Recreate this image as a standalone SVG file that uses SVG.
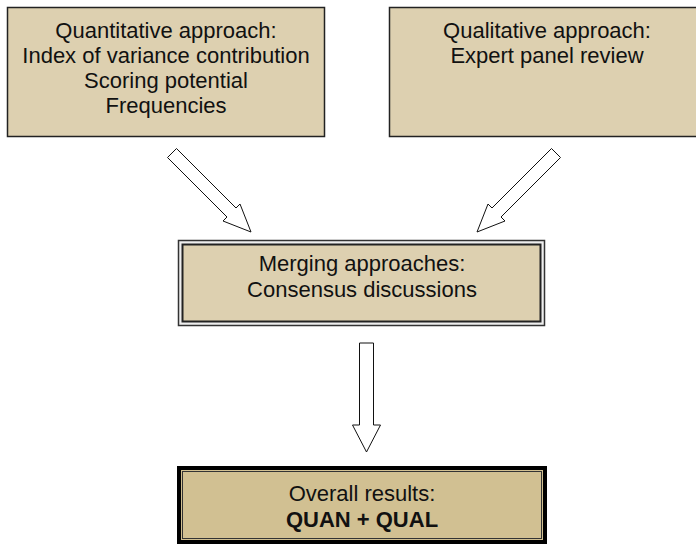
<svg xmlns="http://www.w3.org/2000/svg" width="696" height="545" viewBox="0 0 696 545">
<style>
.t{font-family:"Liberation Sans",Arial,sans-serif;font-size:22px;fill:#111;text-anchor:middle}
.b{font-weight:bold}
.box{fill:#DDD0B0;stroke:#222;stroke-width:1.5}
.arrow{fill:#fff;stroke:#111;stroke-width:1;stroke-linejoin:miter}
</style>
<rect width="696" height="545" fill="#fff"/>
<g id="quantitative">
<rect class="box" x="7.5" y="7.5" width="317" height="129"/>
<text class="t" x="166" y="38">Quantitative approach:</text>
<text class="t" x="166" y="63">Index of variance contribution</text>
<text class="t" x="166" y="88">Scoring potential</text>
<text class="t" x="166" y="113">Frequencies</text>
</g>
<g id="qualitative">
<rect class="box" x="389.5" y="7.5" width="320" height="129"/>
<text class="t" x="547" y="38">Qualitative approach:</text>
<text class="t" x="547" y="63">Expert panel review</text>
</g>
<g id="merging">
<rect x="178.5" y="240.5" width="366" height="85" fill="#eee" stroke="#333" stroke-width="1.5"/>
<rect x="182.5" y="244.5" width="358" height="77" fill="#DDD0B0" stroke="#222" stroke-width="2"/>
<text class="t" x="362" y="271">Merging approaches:</text>
<text class="t" x="362" y="297">Consensus discussions</text>
</g>
<g id="overall">
<rect x="179" y="468" width="366" height="74" fill="#D1C092" stroke="#000" stroke-width="4"/>
<rect x="182.5" y="471.5" width="359" height="67" fill="#D1C092" stroke="#333" stroke-width="1"/>
<text class="t" x="362" y="501">Overall results:</text>
<text class="t b" x="362" y="527">QUAN + QUAL</text>
</g>
<g id="connectors">
<polygon class="arrow" points="176.5,148.5 236,208 240,204 251,232 223,221 227,217 167.5,157.5"/>
<polygon class="arrow" points="551.5,148.5 492,208 488,204 477,232 505,221 501,217 560.5,157.5"/>
<polygon class="arrow" points="359.5,343 373.5,343 373.5,425 380.5,425 366.5,452 352.5,425 359.5,425"/>
</g>
</svg>
